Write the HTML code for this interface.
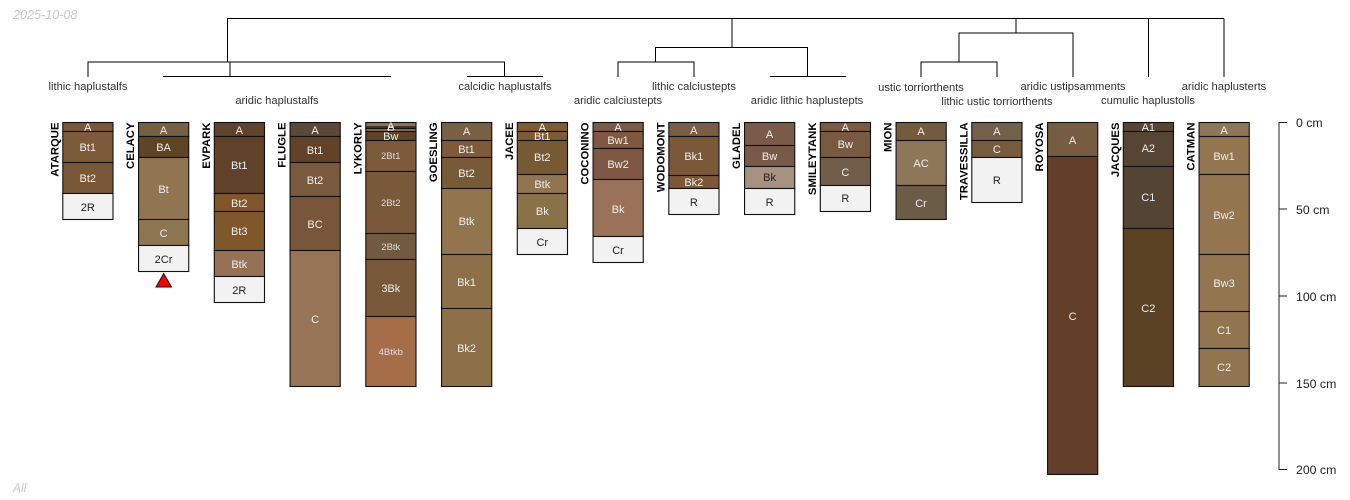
<!DOCTYPE html>
<html><head><meta charset="utf-8"><style>
html,body{margin:0;padding:0;background:#fff;width:1350px;height:500px;overflow:hidden}
svg{display:block}
text{font-family:"Liberation Sans",sans-serif}
.h rect{stroke:#111;stroke-width:1.1;width:50.2px}
.h text{font-size:11px;text-anchor:middle;fill:#eee}
.h text.d{fill:#222}
.h text.s{font-size:9.5px;fill:#ddd}
.n{font-size:11.3px;font-weight:bold;text-anchor:end;fill:#000}
.t{font-size:11.2px;text-anchor:middle;fill:#333}
.a{font-size:12.3px;fill:#222}
</style></head><body>
<svg width="1350" height="500" viewBox="0 0 1350 500" xmlns="http://www.w3.org/2000/svg">
<text x="13" y="19" font-size="12.6" font-style="italic" fill="#c8c8c8">2025-10-08</text>
<text x="13" y="492" font-size="12" font-style="italic" fill="#c8c8c8">All</text>

<g fill="none" stroke="#000" stroke-width="1">
<path d="M227.500 62V18.500H1224M1224 18.500V77M732 18.500V47.500M655.500 62V47.500H807.500V76.500M1016 18.500V33M959 62V33H1073V77M1148.500 18.500V77"/>
<path d="M88 77V62H504.500V76.500M230 62V76.500M163 76.500H391M467 76.500H543M618 77V62H694V77M770 76.500H846M921 77V62H997V77"/>
</g>

<text class="t" x="88" y="90">lithic haplustalfs</text>
<text class="t" x="277" y="104">aridic haplustalfs</text>
<text class="t" x="505" y="90">calcidic haplustalfs</text>
<text class="t" x="618" y="104">aridic calciustepts</text>
<text class="t" x="694" y="90">lithic calciustepts</text>
<text class="t" x="807" y="104">aridic lithic haplustepts</text>
<text class="t" x="921" y="91">ustic torriorthents</text>
<text class="t" x="997" y="105">lithic ustic torriorthents</text>
<text class="t" x="1073" y="90">aridic ustipsamments</text>
<text class="t" x="1148" y="104">cumulic haplustolls</text>
<text class="t" x="1224" y="90">aridic haplusterts</text>

<text class="n" transform="translate(58.300,122.500) rotate(-90)">ATARQUE</text>
<g class="h" transform="translate(62.800,0)">
<rect y="122.500" height="9" fill="#7d5637"/><text x="25" y="131">A</text>
<rect y="131.500" height="31" fill="#7d5a3a"/><text x="25" y="151">Bt1</text>
<rect y="162.500" height="31" fill="#7a5737"/><text x="25" y="182">Bt2</text>
<rect y="193.500" height="26" fill="#f2f2f2"/><text class="d" x="25" y="211">2R</text>
</g>

<text class="n" transform="translate(134,122.500) rotate(-90)">CELACY</text>
<g class="h" transform="translate(138.550,0)">
<rect y="122.500" height="14" fill="#765f43"/><text x="25" y="134">A</text>
<rect y="136.500" height="21" fill="#5e4325"/><text x="25" y="151">BA</text>
<rect y="157.500" height="62" fill="#917551"/><text x="25" y="193">Bt</text>
<rect y="219.500" height="26" fill="#8c7650"/><text x="25" y="237">C</text>
<rect y="245.500" height="26" fill="#f2f2f2"/><text class="d" x="25" y="263">2Cr</text>
</g>
<path d="M163.700 273.500L171.500 287H156Z" fill="#f00" stroke="#111" stroke-width="1"/>

<text class="n" transform="translate(209.800,122.500) rotate(-90)">EVPARK</text>
<g class="h" transform="translate(214.300,0)">
<rect y="122.500" height="14" fill="#60432a"/><text x="25" y="134">A</text>
<rect y="136.500" height="57" fill="#5f4229"/><text x="25" y="169">Bt1</text>
<rect y="193.500" height="18" fill="#80562b"/><text x="25" y="207">Bt2</text>
<rect y="211.500" height="39" fill="#80562b"/><text x="25" y="235">Bt3</text>
<rect y="250.500" height="26" fill="#957256"/><text x="25" y="268">Btk</text>
<rect y="276.500" height="26" fill="#f2f2f2"/><text class="d" x="25" y="294">2R</text>
</g>

<text class="n" transform="translate(285.500,122.500) rotate(-90)">FLUGLE</text>
<g class="h" transform="translate(290.050,0)">
<rect y="122.500" height="14" fill="#5b4838"/><text x="25" y="134">A</text>
<rect y="136.500" height="26" fill="#62432a"/><text x="25" y="154">Bt1</text>
<rect y="162.500" height="34" fill="#7a5a3c"/><text x="25" y="184">Bt2</text>
<rect y="196.500" height="54" fill="#775639"/><text x="25" y="228">BC</text>
<rect y="250.500" height="136" fill="#977455"/><text x="25" y="323">C</text>
</g>

<text class="n" transform="translate(361.300,122.500) rotate(-90)">LYKORLY</text>
<g class="h" transform="translate(365.800,0)">
<rect y="122.500" height="4.500" fill="#93704f"/>
<rect y="127" height="1.500" fill="#93704f"/>
<rect y="128.500" height="3" fill="#93704f"/><text x="25" y="130">A</text><text x="25" y="134">E</text>
<rect y="131.500" height="9" fill="#5e4427"/><text x="25" y="140">Bw</text>
<rect y="140.500" height="31" fill="#7d5a3a"/><text class="s" x="25" y="159">2Bt1</text>
<rect y="171.500" height="62" fill="#7a593a"/><text class="s" x="25" y="206">2Bt2</text>
<rect y="233.500" height="26" fill="#705b3f"/><text class="s" x="25" y="250">2Btk</text>
<rect y="259.500" height="57" fill="#7a593a"/><text x="25" y="292">3Bk</text>
<rect y="316.500" height="70" fill="#a66e48"/><text class="s" x="25" y="355">4Btkb</text>
</g>

<text class="n" transform="translate(437,122.500) rotate(-90)">GOESLING</text>
<g class="h" transform="translate(441.550,0)">
<rect y="122.500" height="18" fill="#776043"/><text x="25" y="135">A</text>
<rect y="140.500" height="17" fill="#7d5a3a"/><text x="25" y="153">Bt1</text>
<rect y="157.500" height="31" fill="#775b39"/><text x="25" y="177">Bt2</text>
<rect y="188.500" height="66" fill="#92754f"/><text x="25" y="225">Btk</text>
<rect y="254.500" height="54" fill="#8d7049"/><text x="25" y="286">Bk1</text>
<rect y="308.500" height="78" fill="#8d7049"/><text x="25" y="352">Bk2</text>
</g>

<text class="n" transform="translate(512.800,122.500) rotate(-90)">JACEE</text>
<g class="h" transform="translate(517.300,0)">
<rect y="122.500" height="9" fill="#7d5c34"/><text x="25" y="131">A</text>
<rect y="131.500" height="9" fill="#7d5c34"/><text x="25" y="140">Bt1</text>
<rect y="140.500" height="34" fill="#765a34"/><text x="25" y="161">Bt2</text>
<rect y="174.500" height="19" fill="#917450"/><text x="25" y="188">Btk</text>
<rect y="193.500" height="35" fill="#8a7248"/><text x="25" y="215">Bk</text>
<rect y="228.500" height="26" fill="#f2f2f2"/><text class="d" x="25" y="246">Cr</text>
</g>

<text class="n" transform="translate(588.500,122.500) rotate(-90)">COCONINO</text>
<g class="h" transform="translate(593.050,0)">
<rect y="122.500" height="9" fill="#7b5a48"/><text x="25" y="131">A</text>
<rect y="131.500" height="17" fill="#7f583f"/><text x="25" y="144">Bw1</text>
<rect y="148.500" height="31" fill="#7f5845"/><text x="25" y="168">Bw2</text>
<rect y="179.500" height="57" fill="#9a7258"/><text x="25" y="213">Bk</text>
<rect y="236.500" height="26" fill="#f2f2f2"/><text class="d" x="25" y="254">Cr</text>
</g>

<text class="n" transform="translate(664.300,122.500) rotate(-90)">WODOMONT</text>
<g class="h" transform="translate(668.800,0)">
<rect y="122.500" height="14" fill="#7a5d45"/><text x="25" y="134">A</text>
<rect y="136.500" height="39" fill="#7b5838"/><text x="25" y="160">Bk1</text>
<rect y="175.500" height="13" fill="#7b5838"/><text x="25" y="186">Bk2</text>
<rect y="188.500" height="26" fill="#f2f2f2"/><text class="d" x="25" y="206">R</text>
</g>

<text class="n" transform="translate(740,122.500) rotate(-90)">GLADEL</text>
<g class="h" transform="translate(744.550,0)">
<rect y="122.500" height="23" fill="#7a5b4a"/><text x="25" y="138">A</text>
<rect y="145.500" height="21" fill="#79594a"/><text x="25" y="160">Bw</text>
<rect y="166.500" height="22" fill="#a79282"/><text class="d" x="25" y="181">Bk</text>
<rect y="188.500" height="26" fill="#f2f2f2"/><text class="d" x="25" y="206">R</text>
</g>

<text class="n" transform="translate(815.800,122.500) rotate(-90)">SMILEYTANK</text>
<g class="h" transform="translate(820.300,0)">
<rect y="122.500" height="9" fill="#7b5a3d"/><text x="25" y="131">A</text>
<rect y="131.500" height="26" fill="#775a40"/><text x="25" y="148">Bw</text>
<rect y="157.500" height="28" fill="#725d4a"/><text x="25" y="176">C</text>
<rect y="185.500" height="26" fill="#f2f2f2"/><text class="d" x="25" y="202">R</text>
</g>

<text class="n" transform="translate(891.500,122.500) rotate(-90)">MION</text>
<g class="h" transform="translate(896.050,0)">
<rect y="122.500" height="18" fill="#745b3e"/><text x="25" y="135">A</text>
<rect y="140.500" height="45" fill="#8e7659"/><text x="25" y="167">AC</text>
<rect y="185.500" height="34" fill="#6a5c47"/><text x="25" y="207">Cr</text>
</g>

<text class="n" transform="translate(967.300,122.500) rotate(-90)">TRAVESSILLA</text>
<g class="h" transform="translate(971.800,0)">
<rect y="122.500" height="18" fill="#73604c"/><text x="25" y="135">A</text>
<rect y="140.500" height="17" fill="#765c3e"/><text x="25" y="153">C</text>
<rect y="157.500" height="45" fill="#f2f2f2"/><text class="d" x="25" y="184">R</text>
</g>

<text class="n" transform="translate(1043,122.500) rotate(-90)">ROYOSA</text>
<g class="h" transform="translate(1047.550,0)">
<rect y="122.500" height="34" fill="#765c40"/><text x="25" y="144">A</text>
<rect y="156.500" height="318" fill="#633f2a"/><text x="25" y="320">C</text>
</g>

<text class="n" transform="translate(1118.800,122.500) rotate(-90)">JACQUES</text>
<g class="h" transform="translate(1123.300,0)">
<rect y="122.500" height="9" fill="#574532"/><text x="25" y="131">A1</text>
<rect y="131.500" height="35" fill="#574533"/><text x="25" y="152">A2</text>
<rect y="166.500" height="62" fill="#544433"/><text x="25" y="201">C1</text>
<rect y="228.500" height="158" fill="#5b4123"/><text x="25" y="312">C2</text>
</g>

<text class="n" transform="translate(1194.500,122.500) rotate(-90)">CATMAN</text>
<g class="h" transform="translate(1199.050,0)">
<rect y="122.500" height="14" fill="#8e7659"/><text x="25" y="134">A</text>
<rect y="136.500" height="38" fill="#937650"/><text x="25" y="160">Bw1</text>
<rect y="174.500" height="80" fill="#937650"/><text x="25" y="219">Bw2</text>
<rect y="254.500" height="57" fill="#937650"/><text x="25" y="287">Bw3</text>
<rect y="311.500" height="37" fill="#917550"/><text x="25" y="334">C1</text>
<rect y="348.500" height="38" fill="#917550"/><text x="25" y="371">C2</text>
</g>

<path d="M1287 122.500H1279V469.500H1287M1279 209H1287M1279 296H1287M1279 383H1287" fill="none" stroke="#222" stroke-width="1"/>
<text class="a" x="1296" y="127">0 cm</text>
<text class="a" x="1296" y="214">50 cm</text>
<text class="a" x="1296" y="301">100 cm</text>
<text class="a" x="1296" y="388">150 cm</text>
<text class="a" x="1296" y="474">200 cm</text>
</svg>
</body></html>
